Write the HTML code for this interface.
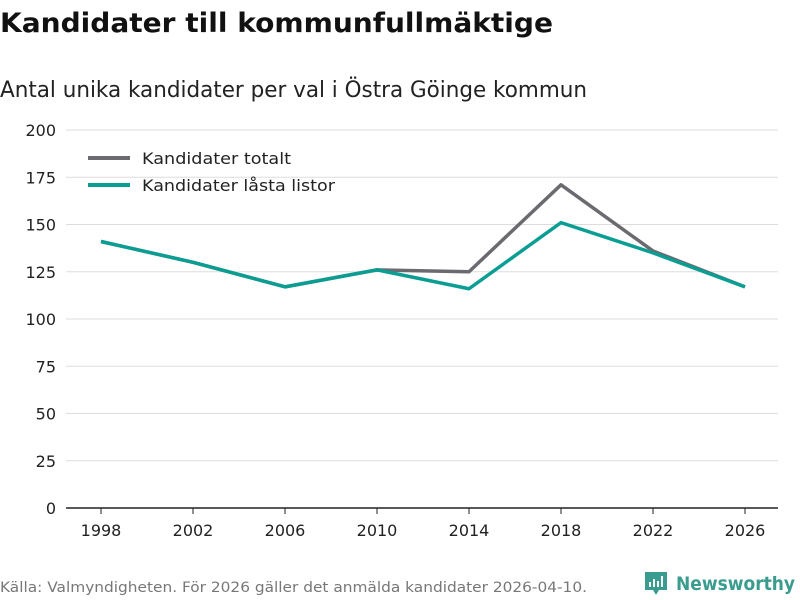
<!DOCTYPE html>
<html><head><meta charset="utf-8"><style>
body{margin:0;background:#fff;}
svg{display:block;font-family:"DejaVu Sans","Liberation Sans",sans-serif;}
</style></head><body>
<svg id="chart" width="800" height="600" viewBox="0 0 800 600">
<text x="0" y="32" font-size="27" font-weight="bold" fill="#111" textLength="553" lengthAdjust="spacingAndGlyphs">Kandidater till kommunfullmäktige</text>
<text x="0" y="97" font-size="22" fill="#222" textLength="587" lengthAdjust="spacingAndGlyphs">Antal unika kandidater per val i Östra Göinge kommun</text>
<g id="grid"></g><g id="xaxis"></g><g id="lines"></g>
<g>
<g><line x1="88" y1="158" x2="130" y2="158" stroke="#6b6a70" stroke-width="4"/><text x="142" y="164" font-size="16" fill="#222" textLength="149" lengthAdjust="spacingAndGlyphs">Kandidater totalt</text></g>
<g><line x1="88" y1="185" x2="130" y2="185" stroke="#0a9e93" stroke-width="4"/><text x="142" y="191" font-size="16" fill="#222" textLength="193" lengthAdjust="spacingAndGlyphs">Kandidater låsta listor</text></g>
</g>
<text x="0" y="592" font-size="14" fill="#777" textLength="587" lengthAdjust="spacingAndGlyphs">Källa: Valmyndigheten. För 2026 gäller det anmälda kandidater 2026-04-10.</text>
<g>
<path d="M645 572h22v18h-8l-3 5-3-5h-8z" fill="#3a9b8f"/>
<rect x="649" y="582" width="2" height="5" fill="#fff"/><rect x="653" y="579" width="2" height="8" fill="#fff"/><rect x="657" y="581" width="2" height="6" fill="#fff"/><rect x="661" y="576" width="2" height="11" fill="#fff"/>
<text x="676" y="590" font-size="19" font-weight="bold" fill="#3a9b8f" textLength="119" lengthAdjust="spacingAndGlyphs">Newsworthy</text>
</g>
</svg>
<script>
const years=[1998,2002,2006,2010,2014,2018,2022,2026];
const totalt=[141,130,117,126,125,171,136,117];
const lasta=[141,130,117,126,116,151,135,117];
const yTicks=[0,25,50,75,100,125,150,175,200];
const NS='http://www.w3.org/2000/svg';
const x=v=>101+(v-1998)*(644/28);
const y=v=>508-v*(378/200);
function mk(t,a,p){const e=document.createElementNS(NS,t);for(const k in a)e.setAttribute(k,a[k]);p.appendChild(e);return e;}
const grid=document.getElementById('grid');
yTicks.forEach(v=>{
 const l=mk('line',{x1:66,x2:778,y1:y(v),y2:y(v),stroke:v===0?'#222':'#ddd','stroke-width':v===0?1.5:1},grid);
 
 
 const t=mk('text',{x:56,y:y(v)+6,'text-anchor':'end','font-size':16,fill:'#222'},grid);
 t.textContent=v;
 
 
});
const xa=document.getElementById('xaxis');
years.forEach(v=>{
 mk('line',{x1:x(v),x2:x(v),y1:508,y2:514,stroke:'#222'},xa);
 const t=mk('text',{x:x(v),y:536,'text-anchor':'middle','font-size':16,fill:'#222'},xa);
 t.textContent=v;
 
 
});
const lg=document.getElementById('lines');
[[totalt,'#6b6a70','line-totalt'],[lasta,'#0a9e93','line-lasta']].forEach(([d,c,n])=>{
 const p=mk('polyline',{points:d.map((v,i)=>x(years[i])+','+y(v)).join(' '),fill:'none',stroke:c,'stroke-width':3.5,'stroke-linejoin':'round'},lg);
 
 
});
</script>
</body></html>
